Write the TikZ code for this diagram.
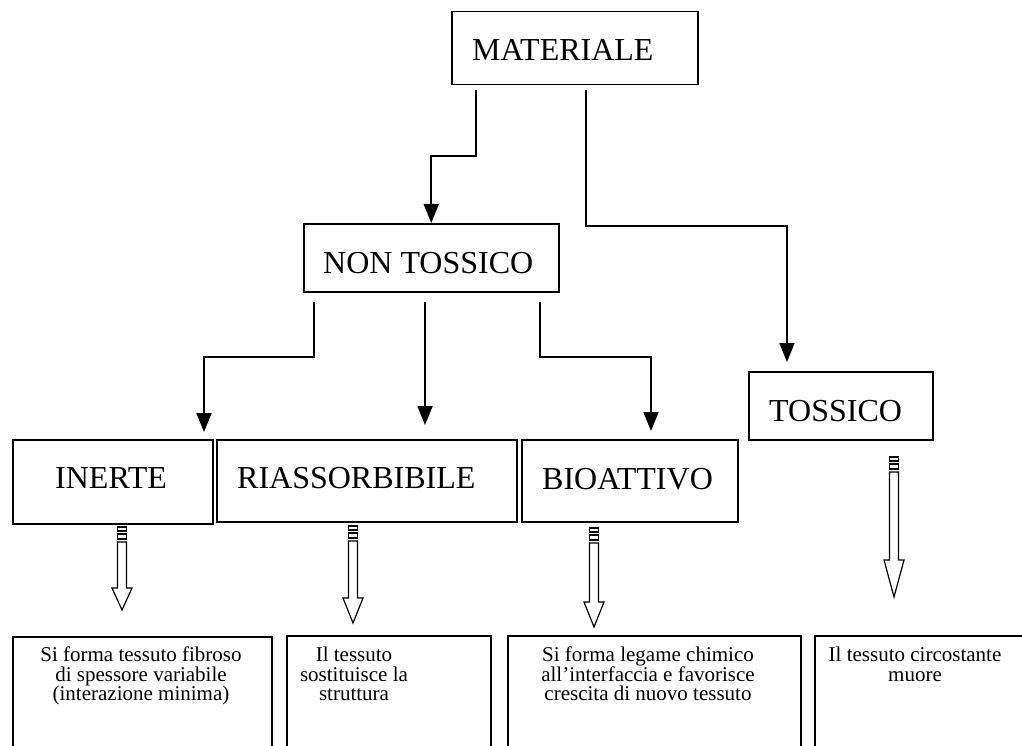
\documentclass[tikz,border=0pt]{standalone}
\usepackage{fontspec}
\setmainfont{Liberation Serif}
\usetikzlibrary{arrows.meta,calc}
\newcommand\hollowarrow[4]{%
  \draw[hol] (#1-4.5,#2) rectangle (#1+4.5,#2+4);
  \draw[hol] (#1-4.5,#2+7) rectangle (#1+4.5,#2+12);
  \draw[hol] (#1-4.5,#2+15) -- (#1-4.5,#3) -- (#1-10,#3) -- (#1,#4) -- (#1+10,#3) -- (#1+4.5,#3) -- (#1+4.5,#2+15) -- cycle;}
\begin{document}
\begin{tikzpicture}[x=1pt,y=-1pt,
  box/.style={draw, line width=1.5pt, inner sep=0pt, anchor=north west},
  big/.style={font=\fontsize{32}{36}\selectfont, inner sep=0pt, anchor=base west},
  small/.style={font=\fontsize{21}{19.5}\selectfont, inner sep=0pt, anchor=north, align=center},
  conn/.style={line width=1.8pt, -{Triangle[length=19pt,width=15pt]}},
  hol/.style={line width=1.2pt, line join=miter},
]
\useasboundingbox (0,0) rectangle (1022,746);

% top level
\node[box, minimum width=246pt, minimum height=73pt] (mat) at (451,11) {};
\node[big] (matl) at (472,61) {MATERIALE};

\node[box, minimum width=255pt, minimum height=68pt] (non) at (303,223) {};
\node[big] (nonl) at (323,273) {NON TOSSICO};

\node[box, minimum width=184pt, minimum height=68pt] (tox) at (748,371) {};
\node[big] (toxl) at (769,421) {TOSSICO};

\node[box, minimum width=200pt, minimum height=84pt] (inert) at (12,439) {};
\node[big] (inertl) at (55,488) {INERTE};

\node[box, minimum width=300pt, minimum height=82pt] (riass) at (216,439) {};
\node[big] (riassl) at (237,488) {RIASSORBIBILE};

\node[box, minimum width=216pt, minimum height=82pt] (bio) at (521,439) {};
\node[big] (biol) at (542,489) {BIOATTIVO};

% connectors
\draw[conn] ([xshift=25pt,yshift=-5pt]mat.south west) |- ([yshift=67pt]non.north) -- (non.north);
\draw[conn] ([xshift=135pt,yshift=-5pt]mat.south west) |- ([xshift=39pt,yshift=145pt]tox.north west) -- ([xshift=39pt,yshift=9pt]tox.north west);
\draw[conn] ([xshift=11pt,yshift=-9pt]non.south west) |- ([xshift=192pt,yshift=82pt]inert.north west) -- ([xshift=192pt,yshift=7pt]inert.north west);
\draw[conn] ([xshift=122pt,yshift=-9pt]non.south west) -- ([xshift=209pt,yshift=14pt]riass.north west);
\draw[conn] ([xshift=237pt,yshift=-9pt]non.south west) |- ([xshift=130pt,yshift=82pt]bio.north west) -- ([xshift=130pt,yshift=8pt]bio.north west);

% hollow arrows
\hollowarrow{122}{527}{588}{610}
\hollowarrow{353}{526}{598}{623}
\hollowarrow{594}{528}{602}{627}
\hollowarrow{894}{457}{560}{597}

% bottom boxes
\node[box, minimum width=259pt, minimum height=130pt] (b1) at (12,636) {};
\node[box, minimum width=204pt, minimum height=130pt] (b2) at (286,635) {};
\node[box, minimum width=293pt, minimum height=130pt] (b3) at (507,635) {};
\node[box, minimum width=230pt, minimum height=130pt] (b4) at (814,635) {};

\node[small] (t1) at (141,647) {Si forma tessuto fibroso\\di spessore variabile\\(interazione minima)};
\node[small] (t2) at (354,647) {Il tessuto\\sostituisce la\\struttura};
\node[small] (t3) at (648,647) {Si forma legame chimico\\all’interfaccia e favorisce\\crescita di nuovo tessuto};
\node[small] (t4) at (915,647) {Il tessuto circostante\\muore};
\end{tikzpicture}
\end{document}
